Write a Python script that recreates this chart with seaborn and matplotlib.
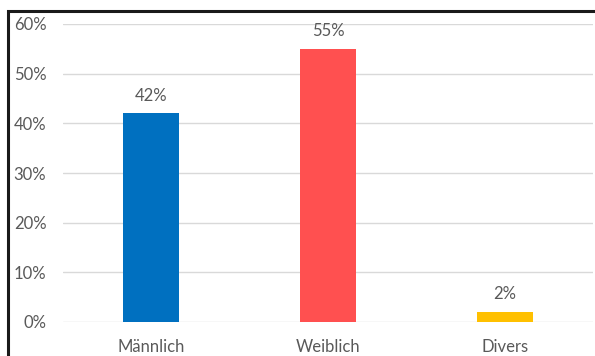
import matplotlib
matplotlib.use("Agg")
import matplotlib.pyplot as plt
from matplotlib.patches import Rectangle
import seaborn as sns
import pandas as pd

categories = ["Männlich", "Weiblich", "Divers"]
shares = [0.42, 0.55, 0.02]
bar_colors = ["#0070C0", "#FF5050", "#FFC000"]
y_ticks = [0.0, 0.1, 0.2, 0.3, 0.4, 0.5, 0.6]

sns.set_theme(style="white")
plt.rcParams["font.family"] = ["Lato", "DejaVu Sans"]
text_color = "#595959"

df = pd.DataFrame({"Geschlecht": categories, "Anteil": shares})

W, H = 595, 356
fig = plt.figure(figsize=(W / 100, H / 100), dpi=100)
ax = fig.add_axes([63 / W, 1 - 322 / H, (593 - 63) / W, (322 - 24) / H])

sns.barplot(data=df, x="Geschlecht", y="Anteil", hue="Geschlecht",
            palette=bar_colors, width=0.317, ax=ax, legend=False,
            saturation=1, linewidth=0, zorder=3)

ax.set_ylim(0, 0.6)
ax.set_xlim(-0.5, 2.5)
ax.set_yticks(y_ticks)
ax.set_yticklabels([f"{int(round(t * 100))}%" for t in y_ticks])
ax.yaxis.grid(True, color="#D9D9D9", linewidth=1.0, zorder=0)
ax.xaxis.grid(False)
for s in ax.spines.values():
    s.set_visible(False)
ax.set_xlabel("")
ax.set_ylabel("")
ax.tick_params(axis="both", length=0, labelsize=12, colors=text_color)
ax.tick_params(axis="y", pad=12)
ax.tick_params(axis="x", pad=12)

for i, v in enumerate(shares):
    ax.annotate(f"{int(round(v * 100))}%", (i, v), xytext=(0, 7),
                textcoords="offset points", ha="center", va="bottom",
                fontsize=12, color=text_color)

# outer frame
fig.patches.append(Rectangle((8 / W, -0.1), 1.2, 1 - 11 / H + 0.1,
                             transform=fig.transFigure, fill=False,
                             edgecolor="#1a1a1a", linewidth=2.2))

fig.savefig("out.png", dpi=100)
